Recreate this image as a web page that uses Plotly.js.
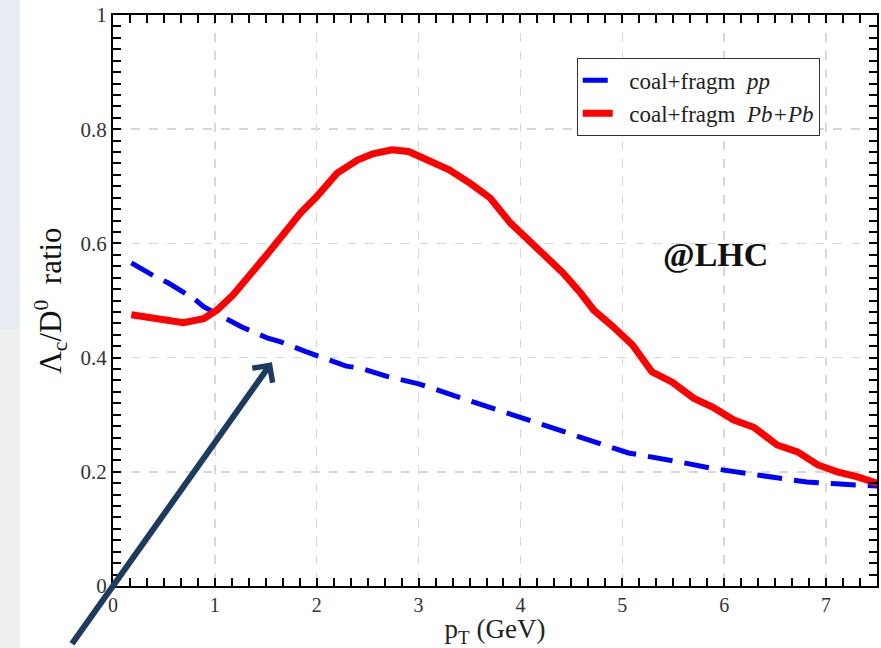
<!DOCTYPE html>
<html>
<head>
<meta charset="utf-8">
<script src="https://cdn.plot.ly/plotly-3.0.1.min.js"></script>
<style>
  html, body { margin: 0; padding: 0; background: #ffffff; }
  #chart { width: 881px; height: 648px; }
</style>
</head>
<body>
<div id="chart"></div>
<script>
// Lambda_c / D0 ratio vs transverse momentum (coalescence + fragmentation)
const ppPt    = [0.18, 0.41, 0.54, 0.79, 0.89, 1.15, 1.26, 1.52, 1.64, 1.90, 2.01, 2.29, 2.42, 2.69,
                 3.0, 3.5, 4.0, 4.58, 5.06, 5.19, 5.47, 5.60, 5.88, 5.99, 6.27, 6.5, 6.81, 7.1, 7.23, 7.5];
const ppRatio = [0.566, 0.542, 0.531, 0.504, 0.489, 0.466, 0.454, 0.434, 0.428, 0.410, 0.403, 0.385, 0.382, 0.367,
                 0.354, 0.325, 0.294, 0.261, 0.233, 0.229, 0.221, 0.216, 0.206, 0.203, 0.196, 0.190, 0.182, 0.179, 0.177, 0.175];

const pbPt    = [0.18, 0.43, 0.69, 0.89, 1.02, 1.18, 1.35, 1.5, 1.75, 1.84, 2.0, 2.2, 2.4, 2.55, 2.74, 2.9, 3.0,
                 3.3, 3.5, 3.7, 3.9, 4.12, 4.42, 4.59, 4.72, 4.91, 5.10, 5.29, 5.49, 5.70, 5.89, 6.09, 6.29,
                 6.52, 6.72, 6.92, 7.11, 7.31, 7.5];
const pbRatio = [0.475, 0.468, 0.461, 0.468, 0.483, 0.510, 0.545, 0.578, 0.633, 0.653, 0.682, 0.723, 0.746, 0.757, 0.764, 0.761, 0.753,
                 0.729, 0.706, 0.680, 0.636, 0.600, 0.548, 0.513, 0.483, 0.454, 0.422, 0.375, 0.357, 0.329, 0.313, 0.291, 0.278,
                 0.247, 0.235, 0.212, 0.200, 0.191, 0.180];

const seriesNames = ['\u00a0\u00a0coal+fragm\u00a0\u00a0<i>pp</i>', '\u00a0\u00a0coal+fragm\u00a0\u00a0<i>Pb+Pb</i>'];
const xTickVals = [0, 1, 2, 3, 4, 5, 6, 7];
const yTickVals = [0, 0.2, 0.4, 0.6, 0.8, 1];
const yTickText = ['0', '0.2', '0.4', '0.6', '0.8', '1'];

const serif = 'Liberation Serif, Times New Roman, serif';

const traces = [
  {
    x: ppPt, y: ppRatio, name: seriesNames[0], type: 'scatter', mode: 'lines',
    line: { color: '#0000ff', width: 5, dash: '25px,12px' }
  },
  {
    x: pbPt, y: pbRatio, name: seriesNames[1], type: 'scatter', mode: 'lines',
    line: { color: '#ff0000', width: 7 }
  }
];

const axisCommon = {
  showline: true, linecolor: '#000000', linewidth: 2, mirror: 'ticks',
  ticks: 'inside', ticklen: 8, tickwidth: 2, tickcolor: '#000000',
  showgrid: true, gridcolor: '#d8d8d8', gridwidth: 1.5, griddash: 'dash',
  zeroline: false,
  tickfont: { family: serif, size: 21, color: '#333333' }
};

const layout = {
  width: 881, height: 648,
  margin: { l: 113, r: 4, t: 15, b: 62 },
  paper_bgcolor: '#ffffff', plot_bgcolor: '#ffffff',
  showlegend: true,
  xaxis: Object.assign({}, axisCommon, {
    range: [0, 7.5], tickvals: xTickVals,
    tickfont: { family: serif, size: 20, color: '#333333' },
    minor: { dtick: 1 / 6, tick0: 0, ticks: 'inside', ticklen: 8, tickwidth: 2, tickcolor: '#000000', showgrid: false },
    title: { text: 'p<sub>T</sub> (GeV)', font: { family: serif, size: 27, color: '#222222' }, standoff: 8 }
  }),
  yaxis: Object.assign({}, axisCommon, {
    range: [0, 1], tickvals: yTickVals, ticktext: yTickText,
    minor: { dtick: 0.02, tick0: 0, ticks: 'inside', ticklen: 8, tickwidth: 2, tickcolor: '#000000', showgrid: false },
    title: { text: '\u039b<sub>c</sub>/D<sup>0</sup>\u00a0\u00a0ratio', font: { family: serif, size: 31, color: '#111111' }, standoff: 10 }
  }),
  legend: {
    x: 0.607, y: 0.925, xanchor: 'left', yanchor: 'top',
    bgcolor: '#ffffff', bordercolor: '#333333', borderwidth: 1,
    font: { family: serif, size: 23, color: '#222222' },
    tracegroupgap: 0
  },
  annotations: [
    {
      x: 5.91, y: 0.58, xref: 'x', yref: 'y', showarrow: false,
      text: '<b>@LHC</b>', font: { family: serif, size: 34, color: '#111111' }
    },
    {
      x: 1.56, y: 0.392, xref: 'x', yref: 'y', text: '',
      showarrow: true, ax: -201, ay: 283,
      arrowcolor: '#1c3b5f', arrowwidth: 6, arrowhead: 4, arrowsize: 0.8
    }
  ],
  shapes: [
    // pale slide backdrop along the left edge
    { type: 'rect', xref: 'paper', yref: 'paper', x0: -0.1479, x1: -0.1217, y0: 0.45, y1: 1.03,
      fillcolor: '#e7edf3', line: { width: 0 }, layer: 'below' },
    { type: 'rect', xref: 'paper', yref: 'paper', x0: -0.1479, x1: -0.1217, y0: -0.11, y1: 0.45,
      fillcolor: '#eef0ef', line: { width: 0 }, layer: 'below' }
  ]
};

Plotly.newPlot('chart', traces, layout, { displayModeBar: false, staticPlot: true });
</script>
</body>
</html>
